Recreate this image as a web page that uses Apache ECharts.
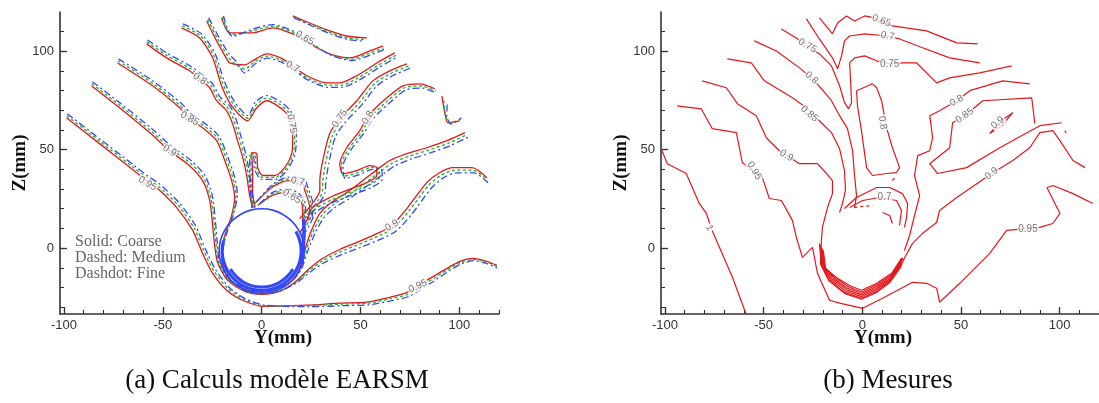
<!DOCTYPE html>
<html><head><meta charset="utf-8">
<script src="https://cdn.jsdelivr.net/npm/echarts/dist/echarts.min.js"></script>
<style>html,body{margin:0;padding:0;background:#fff}#c{width:1099px;height:403px}</style>
</head><body><div id="c"></div>
<script>
// ---------- tick labels ----------
const xMajorTicks = [-100, -50, 0, 50, 100];
const xMinorTicks = [-100, -90, -80, -70, -60, -50, -40, -30, -20, -10, 0, 10, 20, 30, 40, 50, 60, 70, 80, 90, 100, 110, 120];
const yMajorTicks = [0, 50, 100];
const yMinorTicks = [-30, -20, -10, 0, 10, 20, 30, 40, 50, 60, 70, 80, 90, 100, 110];

// ---------- (a) computations: coarse (red), medium (green), fine (blue) ----------
const red095 = [[-98.7,66.3],[-82,53.1],[-65.3,40],[-58.2,34.3],[-53.2,30.8],[-43,20.6],[-34.9,9],[-29.9,-2.7],[-24.8,-12.8],[-17.7,-21.4],[-9.6,-26.5],[0.5,-29.6],[22.8,-29],[39.5,-28],[53.2,-27.5],[64.8,-25],[73.4,-22.5],[83.5,-16.4],[93.7,-10.3],[100.2,-6.7],[106.8,-5.2],[113.9,-6.7],[119,-8.8]];
const green095 = [[-98.5,67.3],[-81.8,54.2],[-65,41.1],[-57.8,35.4],[-52.7,31.9],[-42.3,21.8],[-34.2,10.2],[-29.2,-1.6],[-24,-11.9],[-17,-20.7],[-9,-26],[1,-29.3],[23,-29.2],[40,-28.5],[53.5,-28],[65,-25.8],[74,-23.4],[84,-17.3],[94,-11],[100.5,-7.3],[107,-5.7],[114,-7.2],[119,-9.4]];
const blue095 = [[-98.3,68.3],[-81.5,55.2],[-64.6,42.1],[-57.3,36.4],[-52.2,33],[-41.7,23],[-33.5,11.5],[-28.5,-0.5],[-23.3,-11],[-16.4,-20],[-8.5,-25.6],[1.5,-29],[23.5,-29.8],[40.5,-29.3],[54,-28.8],[65.5,-26.8],[74.5,-24.5],[84.5,-18.4],[94.5,-11.8],[101,-8],[107.3,-6.4],[114.2,-8],[119,-10.2]];

const red090 = [[-86.1,82.5],[-71.9,71.3],[-56.7,58.7],[-46.6,49.5],[-36.5,41.9],[-29.9,34.3],[-26.3,24.2],[-24.8,11.5],[-23.8,1.4],[-22.3,-7.3],[-17.2,-16.4],[-8.6,-22],[0,-23.5],[9.1,-22],[16.7,-17.4],[24.3,-10.3],[30.9,-5.2],[39.5,-0.7],[48.1,2.9],[59.7,8],[65.8,11.5],[73.4,20.1],[83.5,33.3],[90.1,38.4],[96.7,40.9],[106.3,40.9],[113.9,35.8]];
const green090 = [[-85.9,83.6],[-71.6,72.4],[-56.3,59.8],[-46.1,50.6],[-35.9,43],[-29.2,35.4],[-25.6,25.3],[-24.1,12.5],[-23.1,2.2],[-21.8,-6.8],[-16.9,-16],[-8.4,-21.8],[0,-23.3],[9.3,-21.8],[17.1,-17.5],[24.8,-10.8],[31.5,-6],[40.2,-1.7],[49,1.8],[60.5,6.8],[66.8,10.2],[74.4,18.8],[84.5,32],[91,37.2],[97.5,39.6],[106.8,39.6],[114.2,34.5]];
const blue090 = [[-85.6,84.6],[-71.2,73.4],[-55.8,60.9],[-45.5,51.7],[-35.2,44.1],[-28.5,36.5],[-24.9,26.3],[-23.4,13.5],[-22.5,3],[-21.4,-6.3],[-16.6,-15.6],[-8.2,-21.6],[0,-23.1],[9.5,-21.6],[17.5,-17.7],[25.4,-11.5],[32.3,-7],[41.2,-3],[50.1,0.4],[61.6,5.2],[68,8.7],[75.8,17.1],[85.7,30.4],[92,35.8],[98.4,38.2],[107.3,38.2],[114.5,33.2]];

const red085 = [[-72.9,94.1],[-55.2,82.5],[-41.5,71.3],[-36.5,65.8],[-29.9,61.2],[-22.8,54.6],[-18.7,44.5],[-15.2,34.3],[-13.7,25.7],[-15.2,16.6],[-18.2,8],[-20.3,-1.2],[-19.7,-8.8],[-16.2,-16.4],[-8.6,-20.9],[0,-22.5],[8.1,-20.9],[15.2,-16.4],[19.2,-10.3],[21.8,-1.2],[23.3,3.9],[25.8,10.5],[29.4,17.6],[34.4,22.7],[43,28.2],[51.1,34.3],[59.7,40.9],[64.8,44.5],[73.4,48],[83.5,51],[93.7,54.6],[102.8,58.7]];
const green085 = [[-72.7,95.2],[-54.9,83.6],[-41.1,72.4],[-36,66.9],[-29.4,62.3],[-22.2,55.7],[-18,45.6],[-14.5,35.4],[-13,26.6],[-14.6,17.3],[-17.7,8.5],[-19.9,-0.9],[-19.4,-8.6],[-16,-16.2],[-8.5,-20.7],[0,-22.3],[8.2,-20.7],[15.4,-16.4],[19.6,-10.6],[22.4,-1.7],[24,3.2],[26.6,9.6],[30.4,16.6],[35.5,21.6],[44.1,27],[52.3,33.1],[60.9,39.6],[66,43.2],[74.5,46.7],[84.5,49.8],[94.6,53.4],[103.5,57.5]];
const blue085 = [[-72.4,96.2],[-54.5,84.6],[-40.6,73.5],[-35.5,68],[-28.8,63.4],[-21.6,56.8],[-17.3,46.7],[-13.8,36.5],[-12.3,27.5],[-14,18],[-17.2,9],[-19.5,-0.6],[-19.1,-8.4],[-15.8,-16],[-8.4,-20.5],[0,-22.1],[8.3,-20.5],[15.6,-16.4],[20,-10.9],[23,-2.2],[24.8,2.4],[27.5,8.6],[31.4,15.5],[36.7,20.4],[45.3,25.8],[53.5,31.8],[62.2,38.2],[67.3,41.8],[75.7,45.3],[85.6,48.5],[95.6,52.2],[104.2,56.3]];

const redHook = [[91.1,77.4],[92.7,68.3],[94.2,63.7],[100.2,64.7]];
const greenHook = [[92,75],[93,67.5],[95,63.5],[100.5,65.5]];
const blueHook = [[93.8,73],[93.6,67],[96,63],[101,66.2]];

const red080L = [[-58.2,103.8],[-48.1,96.7],[-36.5,90.1],[-31.4,86],[-26.3,81.5],[-22.8,74.9],[-17.7,69.8],[-14.7,63.2],[-12.2,54.6],[-9.6,46],[-7.6,36.9],[-6.1,26.7],[-4.6,20.6]];
const green080L = [[-58,104.8],[-47.8,97.8],[-36,91.2],[-30.8,87.1],[-25.6,82.6],[-22,76],[-16.8,70.9],[-13.8,64.2],[-11.3,55.5],[-8.8,46.8],[-6.9,37.5],[-5.5,27.2],[-4,20.7]];
const blue080L = [[-57.7,105.8],[-47.4,98.8],[-35.5,92.2],[-30.2,88.1],[-24.9,83.6],[-21.2,77],[-15.9,71.9],[-12.9,65.2],[-10.4,56.4],[-8,47.6],[-6.2,38.1],[-4.9,27.7],[-3.4,20.8]];

const red080R = [[19.2,7.5],[22.8,14.1],[25.8,20.6],[34.4,25.7],[43,29.3],[53.2,33.3],[58.2,36.9],[58.2,40.9],[54.7,41.9],[48.1,39.4],[41,37.9],[39.5,42.9],[43,51],[49.6,59.7],[53.2,66.3],[56.2,69.8],[63.3,76.4],[71.4,82.5],[80,83.5],[87.6,81]];
const green080R = [[20,6.8],[23.6,13.2],[26.8,19.6],[35.5,24.6],[44.2,28.1],[54.4,32.1],[59.6,36],[59.3,40.5],[55.5,41],[48.8,38.4],[41.6,36.6],[40.3,42.3],[44,50.4],[50.6,59],[54.3,65.5],[57.3,68.9],[64.3,75.4],[72.2,81.5],[80.6,82.4],[88,79.9]];
const blue080R = [[20.8,6.1],[24.5,12.3],[27.8,18.6],[36.6,23.5],[45.4,26.9],[55.6,30.9],[61,35.1],[60.4,40.1],[56.3,40.1],[49.5,37.4],[42.2,35.4],[41.1,41.7],[45,49.8],[51.6,58.3],[55.4,64.7],[58.4,68],[65.3,74.4],[73,80.5],[81.2,81.3],[88.4,78.8]];

const red075L = [[-40.5,111.9],[-31.4,106.8],[-24.8,96.7],[-20.3,82.5],[-15.2,72.3],[-7.1,64.7],[-2.5,71.3],[2.5,74.9],[8.1,72.3],[12.7,68.3],[15.2,63.2],[15.7,56.1],[15.2,48],[11.6,40.9],[6.6,36.9],[0.5,36.9],[-2,40.9],[-2.5,48],[-5.1,48.5],[-4.6,37.9],[-4.6,29.3],[-3.5,20.6]];
const green075L = [[-40.2,113],[-31,107.9],[-24.2,97.8],[-19.6,83.6],[-14.5,73.4],[-7,66],[-2.8,72.8],[2.5,76.2],[8.5,73.5],[13.4,69.3],[16,64],[16.6,56.4],[16,47.8],[12.2,40.2],[6.8,35.9],[0.2,35.9],[-2.8,40.5],[-3.3,47.4],[-5.6,47.8],[-5.3,37.6],[-5.2,29],[-4.2,20.5]];
const blue075L = [[-39.8,114],[-30.5,108.9],[-23.6,98.9],[-18.9,84.7],[-13.8,74.5],[-6.9,67.3],[-3.2,74.3],[2.5,77.5],[9,74.7],[14.1,70.3],[16.8,64.8],[17.5,56.7],[16.8,47.6],[12.8,39.5],[7,34.9],[-0.1,34.9],[-3.6,40.1],[-4.1,46.8],[-6.1,47.1],[-6,37.3],[-5.8,28.7],[-4.9,20.4]];

const red075R = [[73.4,93.6],[64.8,90.1],[56.2,85],[48.1,74.9],[39.5,65.8],[34.4,58.2],[30.9,44.5],[29.4,34.3],[29.4,29.3],[26.8,24.2],[22.8,19.1],[19.2,15]];
const green075R = [[74.2,92.5],[65.6,88.9],[57.2,83.7],[49.3,73.8],[40.8,64.8],[35.8,57.3],[32.4,43.8],[30.9,33.7],[30.7,28.7],[28,23.5],[23.9,18.3],[20.1,14]];
const blue075R = [[75,91.4],[66.4,87.7],[58.2,82.4],[50.5,72.7],[42.1,63.8],[37.2,56.4],[33.9,43.1],[32.4,33.1],[32,28.1],[29.2,22.8],[25,17.5],[21,13]];

const red070 = [[-27.8,115.4],[-22.8,105.3],[-17.7,96.2],[-16.2,94.1],[-8.6,93.1],[-4.6,95.2],[2.5,98.7],[10.6,96.2],[15.7,92.6],[22.8,87.6],[32.9,84],[39.5,84],[48.1,87.6],[58.2,94.1],[67.3,99.2]];
const green070 = [[-27.3,116.2],[-22.2,106.2],[-17,97.3],[-14.5,94.5],[-8.6,91],[-4,94.4],[2.7,97.6],[10.8,95],[16,91.4],[23.2,86.4],[33.3,82.8],[40,82.8],[48.6,86.4],[58.8,92.9],[67.8,98]];
const blue070 = [[-26.8,117],[-21.6,107.1],[-16.3,98.4],[-13,95],[-8.6,89],[-3.4,93.6],[2.9,96.6],[11,94],[16.3,90.3],[23.6,85.3],[33.7,81.7],[40.5,81.7],[49.1,85.3],[59.4,91.8],[68.3,97]];

const red065 = [[-20.3,117],[-16.2,109.4],[-4.6,109.4],[5.6,111.9],[15.7,108.9],[20.3,106.3],[24.3,103.8],[34.4,98.7],[44.6,96.7],[54.7,100.2],[61.3,102.8]];
const green065 = [[-19.8,117.5],[-15.5,108.5],[-4.6,110.4],[5.6,112.8],[16,109.6],[20.6,106.8],[24.7,104],[34.8,98.4],[45,96],[55,99.2],[61.6,101.8]];
const blue065 = [[-19.3,118],[-14.8,107.6],[-4.6,111.3],[5.6,113.6],[16.3,110.2],[21,107.2],[25.1,104.1],[35.2,98],[45.4,95.3],[55.4,98.3],[62,100.9]];

const red060 = [[15.7,118],[24.3,114.4],[34.4,110.4],[43,107.8],[53.2,106.8]];
const green060 = [[16,117.5],[24.7,113.7],[34.8,109.5],[43.5,106.8],[52,106]];
const blue060 = [[16.3,117],[25.1,113],[35.2,108.7],[44,105.9],[51,105.3]];

const redArc070 = [[-3.5,22.7],[5.1,30.8],[13.2,34.3],[20.3,33.3],[21.8,29.3],[24.3,20.6],[23.3,14.1]];
const greenArc070 = [[-3,23.2],[5.3,31.6],[13.4,35.2],[20.8,34.3],[22.6,30],[25.2,21],[24.3,14.2]];
const blueArc070 = [[-2.5,23.7],[5.5,32.4],[13.6,36.1],[21.3,35.3],[23.4,30.7],[26.1,21.4],[25.3,14.3]];
const redArc065 = [[-2,21.6],[5.1,26.7],[11.6,28.2],[16.7,26.7],[20.3,22.7],[20.8,14.1]];
const greenArc065 = [[-1.6,22],[5.3,27.5],[11.9,29.1],[17.2,27.6],[21,23.3],[21.6,14.2]];
const blueArc065 = [[-1.2,22.4],[5.5,28.3],[12.2,30],[17.7,28.5],[21.7,23.9],[22.4,14.3]];

// rod outline and the packed wall contours
const rodOutline = [[21.5,-1.5],[20.8,4.1],[18.6,9.25],[15.2,13.7],[10.75,17.1],[5.6,19.3],[0,20],[-5.6,19.3],[-10.75,17.1],[-15.2,13.7],[-18.6,9.25],[-20.8,4.1],[-21.5,-1.5],[-20.8,-7.1],[-18.6,-12.25],[-15.2,-16.7],[-10.75,-20.1],[-5.6,-22.3],[0,-23],[5.6,-22.3],[10.75,-20.1],[15.2,-16.7],[18.6,-12.25],[20.8,-7.1],[21.5,-1.5]];
const wallBandOuter = [[-19.3,3.7],[-20,-1.5],[-19.3,-6.7],[-17.3,-11.5],[-14.1,-15.6],[-10,-18.8],[-5.2,-20.8],[0,-21.5],[5.2,-20.8],[10,-18.8],[14.1,-15.6],[17.3,-11.5],[19.3,-6.7],[20,-1.5],[19.3,3.7],[17.3,8.5]];
const wallBandInner = [[-15.85,-10.65],[-12.9,-14.4],[-9.15,-17.35],[-4.7,-19.2],[0,-19.8],[4.7,-19.2],[9.15,-17.35],[12.9,-14.4],[15.85,-10.65]];
const wallBundleRight = [[20.3,-8],[21,0],[21.4,8],[21.2,15]];

const leftLabelText = ['0.65','0.7','0.8','0.85','0.9','0.95','0.75','0.75','0.8','0.7','0.65','0.9','0.95'];
const leftLabelPos = [[21.8,106.8],[15.7,92.1],[-31.4,86],[-36.5,65.8],[-46.6,49.5],[-57.7,32.8],[15.2,63.2],[39.5,65.8],[53.7,66.3],[18.2,33.8],[15.2,26.2],[65.8,11.5],[79,-19.4]];
const leftLabelRot = [-30,-30,-35,-30,-30,-30,-80,55,60,-15,-30,30,25];

// ---------- (b) measurements ----------
const meas100 = [[-101.9,50.5],[-98.8,42.9],[-89.2,37.9],[-82.6,22.7],[-79,17.6],[-76.5,10],[-72.4,0.4],[-65.8,-14.8],[-58.7,-34]];
const meas095 = [[-93.8,72.3],[-81.6,70.8],[-76,60.7],[-63.8,58.7],[-60.8,43.5],[-50.6,35.8],[-47.1,25.2],[-41,24.2],[-35.4,14.1],[-33.4,5.4],[-30.3,-4.7],[-25.2,0.4],[-22.7,-12.8],[-16.6,-26.5],[-11.5,-28],[0.2,-30.6],[10.3,-25.5],[25.5,-17.4],[32.6,-17.9],[37.7,-20.4],[39.2,-27.5],[49.4,-17.9],[56,-11.3],[64.6,-2.7],[73.2,9],[90,10.5],[96.6,12.5],[100.2,17.6],[93.6,30.8],[96.6,31.8],[106.8,27.7],[116.9,22.7]];
const meas090 = [[-81.1,85],[-68.9,81.5],[-63.3,73.4],[-53.7,67.3],[-48.6,56.1],[-42,49.5],[-31.8,42.9],[-22.7,42.9],[-18.1,37.9],[-15.1,34.3],[-15.1,27.7],[-17.6,20.6],[-20.2,10.5],[-20.7,3.9],[-21.2,-8],[-17,-16.5],[-9,-23],[-0.4,-26],[7.3,-22.5],[14,-17.5],[19,-10.5],[21.4,-5],[25.5,2.4],[30.6,7.5],[37.7,13],[39.2,19.1],[47.9,25.7],[65.6,37.9],[76.3,44.5],[84.9,51],[90,58.7],[96.6,59.7],[100.2,54.6],[106.8,44.5],[112.9,40.9]];
const meas090Lens = [[64.6,58.2],[69.7,64.2],[76.3,68.8],[71.2,62.7],[64.6,58.2]];
const meas085L = [[-68.4,96.2],[-56.2,94.1],[-49.6,85],[-35.4,76.4],[-28.3,71.3],[-20.7,63.7],[-15.6,58.7],[-11.5,50.5],[-9,39.4],[-8.5,29.3],[-10,22.7],[-11.5,18.1]];
const meas085R = [[101.2,63.7],[90,62.2],[69.7,51],[52.9,40.9],[38.2,37.9],[34.2,42.9],[44.3,51],[45.8,63.7],[51.9,67.3],[61.1,74.9],[85.9,76.4],[87.5,63.2]];
const meas085Bit = [[102.7,59.7],[103.4,58.5]];
const meas080L = [[-54.7,105.3],[-43.5,100.2],[-31.8,91.6],[-25.7,86.5],[-20.7,81],[-15.6,74.9],[-11.5,67.3],[-7.5,60.7],[-4.9,49.5],[-3.9,36.9],[-2.9,26.7],[-3.9,20.6]];
const meas080Island = [[-2.9,80],[5.2,83.5],[7.3,81.5],[9.8,74.9],[12.3,61.2],[15.3,51],[18.9,40.9],[17.4,38.4],[12.3,37.9],[5.2,36.9],[2.2,40.9],[-0.4,59.7],[-2.4,72.3],[-2.9,80]];
const meas080R = [[84.9,83.5],[71.2,85],[54.5,80],[47.9,74.9],[39.2,69.8],[34.2,67.3],[35.7,56.1],[34.2,49.5],[28.1,47],[26.5,36.9],[29.1,26.7],[26.5,16.6],[24,6.4],[21.4,-1.2]];
const meas075 = [[-41,111.4],[-33.4,106.8],[-27.8,102.8],[-21.7,98.7],[-15.6,92.6],[-11.5,82.5],[-9,73.9],[-6.9,70.8],[-5.4,73.9],[-5.9,85],[-6.4,94.1],[-3.9,96.7],[1.2,97.7],[7.3,95.2],[13.9,93.6],[20.4,94.1],[27.6,94.1],[37.7,84],[44.3,86.5],[59.5,89.1],[75.8,92.6]];
const meas070 = [[-28.3,116.5],[-21.7,106.3],[-15.1,96.7],[-12.5,91.1],[-10.5,97.7],[-9,105.3],[-6.4,107.8],[1.2,108.9],[12.8,107.8],[18.9,106.3],[30.6,101.8],[44.3,96.7],[59.5,94.1]];
const meas065 = [[-21.7,117],[-15.1,108.9],[-12.5,114.4],[-8,118],[-3.9,115.4],[1.2,118],[6.2,117],[15.3,112.9],[32.6,110.4],[47.9,104.3],[58.5,103.8]];
const measArc1 = [[-9,20.1],[-2.9,25.7],[7.3,30.8],[13.9,30.8],[20.4,27.7],[23,22.7],[22.5,15.6],[21.4,10.5]];
const measArc2 = [[-6.4,20.6],[0.2,24.2],[8.8,25.7],[17.4,24.2],[19.9,19.1],[18.9,11.5]];
const measArc3 = [[-4,20.6],[0,21.2],[5.2,21.6]];
const measArc4 = [[10.3,18.1],[13.9,16.6],[15.3,12.5]];
const measBit = [[15.3,34.3],[16.3,35.6]];
const measWallA = [[-21.7,2.4],[-20.7,-8.8],[-16.6,-16.4],[-9,-22.5],[-0.4,-25.5],[7.3,-21.9],[13.9,-16.9],[18.9,-9.8],[20.4,-5.2]];
const measWallB = [[-21.3,1.6],[-20.3,-9.1],[-15.8,-16.2],[-8.5,-21.8],[-0.4,-24.7],[7.3,-21.1],[14.1,-16.1],[18.7,-9.5],[20.3,-5.2]];
const measWallC = [[-20.9,0.8],[-19.9,-9.4],[-15,-16],[-7.9,-21.1],[-0.4,-23.9],[7.3,-20.3],[14.3,-15.3],[18.5,-9.2],[20.2,-5.2]];
const measWallD = [[-20.5,0],[-19.4,-9.7],[-14.1,-15.8],[-7.4,-20.4],[-0.4,-23.1],[7.3,-19.5],[14.5,-14.5],[18.3,-8.9],[20.1,-5.2]];
const measWallE = [[-20.1,-0.6],[-19,-10],[-13.3,-15.6],[-6.9,-19.7],[-0.4,-22.3],[7.3,-18.7],[14.7,-13.7],[18.1,-8.5],[20,-5.2]];
const measWallF = [[-19.7,-1.2],[-18.6,-10.3],[-12.5,-15.4],[-6.4,-19],[-0.4,-21.4],[7.3,-17.9],[14.9,-12.8],[17.9,-8.2],[19.9,-5.2]];

const rightLabelText = ['1','0.95','0.95','0.9','0.85','0.8','0.75','0.65','0.7','0.75','0.8','0.8','0.85','0.9','0.9','0.7'];
const rightLabelPos = [[-77.5,10.3],[-54.7,39.3],[84,9.5],[-38.4,47],[-26.8,68.3],[-25.7,86.5],[-27.8,102.8],[9.8,115.5],[12.8,107.8],[13.9,93.6],[10.3,63.7],[47.9,74.9],[51.9,67.3],[68.7,63.7],[65.6,37.9],[11.3,25.7]];
const rightLabelRot = [-65,-60,0,-30,-40,-40,-30,-20,-10,0,-80,30,35,40,40,0];

// ---------- build ----------
const RED = '#e3161b', GREEN = '#1db51d', BLUE = '#3347ff';
const chart = echarts.init(document.getElementById('c'), null, {renderer: 'canvas'});

function xAxes(g) {
  return [
    {type: 'value', gridIndex: g, min: -102, max: 120, position: 'bottom',
     axisLine: {show: true, onZero: false, lineStyle: {color: '#333', width: 1.6}},
     axisTick: {show: true, inside: true, length: 7, customValues: xMajorTicks, lineStyle: {color: '#333', width: 1.3}},
     axisLabel: {show: true, customValues: xMajorTicks, margin: 5, color: '#333', fontSize: 13, fontFamily: 'Liberation Sans'},
     splitLine: {show: false}},
    {type: 'value', gridIndex: g, min: -102, max: 120, position: 'bottom',
     axisLine: {show: false, onZero: false},
     axisTick: {show: true, inside: true, length: 4, customValues: xMinorTicks, lineStyle: {color: '#333', width: 1.1}},
     axisLabel: {show: false}, splitLine: {show: false}}
  ];
}
function yAxes(g) {
  return [
    {type: 'value', gridIndex: g, min: -33.5, max: 120, position: 'left',
     axisLine: {show: true, onZero: false, lineStyle: {color: '#333', width: 1.6}},
     axisTick: {show: true, inside: true, length: 7, customValues: yMajorTicks, lineStyle: {color: '#333', width: 1.3}},
     axisLabel: {show: true, customValues: yMajorTicks, margin: 6, color: '#333', fontSize: 13, fontFamily: 'Liberation Sans'},
     splitLine: {show: false}},
    {type: 'value', gridIndex: g, min: -33.5, max: 120, position: 'left',
     axisLine: {show: false, onZero: false},
     axisTick: {show: true, inside: true, length: 4, customValues: yMinorTicks, lineStyle: {color: '#333', width: 1.1}},
     axisLabel: {show: false}, splitLine: {show: false}}
  ];
}

function line(data, color, dash, width, xi, smooth, z) {
  return {type: 'line', data: data, xAxisIndex: xi, yAxisIndex: xi, showSymbol: false, symbol: 'none',
          smooth: smooth, silent: true, animation: false, z: z || 2,
          lineStyle: {color: color, width: width, type: dash}};
}

const series = [];
const leftGroups = [
  [red095, green095, blue095], [red090, green090, blue090], [red085, green085, blue085],
  [redHook, greenHook, blueHook], [red080L, green080L, blue080L], [red080R, green080R, blue080R],
  [red075L, green075L, blue075L], [red075R, green075R, blue075R], [red070, green070, blue070],
  [red065, green065, blue065], [red060, green060, blue060],
  [redArc070, greenArc070, blueArc070], [redArc065, greenArc065, blueArc065]
];
leftGroups.forEach(g => series.push(line(g[0], RED, 'solid', 1.3, 0, 0.25, 2)));
leftGroups.forEach(g => series.push(line(g[1], GREEN, [3, 2.5], 1.3, 0, 0.25, 3)));
leftGroups.forEach(g => series.push(line(g[2], BLUE, [7, 3, 2, 3], 1.3, 0, 0.25, 4)));
series.push(line(rodOutline, BLUE, 'solid', 1.6, 0, 0.4, 4));
series.push(line(wallBandOuter, BLUE, 'solid', 3.2, 0, 0.4, 4));
series.push(line(wallBandInner, BLUE, 'solid', 3, 0, 0.4, 4));
series.push(line(wallBundleRight, BLUE, 'solid', 3.5, 0, 0.3, 4));

[meas100, meas095, meas090, meas090Lens, meas085L, meas085R, meas085Bit, meas080L, meas080Island, meas080R,
 meas075, meas070, meas065, measArc1, measArc2, measArc4, measBit,
 measWallA, measWallB, measWallC, measWallD, measWallE, measWallF]
  .forEach(d => series.push(line(d, RED, 'solid', 1.2, 2, false, 2)));
series.push(line(measArc3, RED, [3, 3], 1.2, 2, false, 2));

function labelSeries(texts, pos, rot, xi) {
  return {type: 'scatter', xAxisIndex: xi, yAxisIndex: xi, symbolSize: 1, silent: true, animation: false, z: 10,
          itemStyle: {color: 'rgba(0,0,0,0)'},
          label: {show: true, position: 'inside', formatter: '{b}', color: '#555', fontSize: 10,
                  fontFamily: 'Liberation Sans', backgroundColor: '#fff', padding: [0, 1]},
          data: texts.map((t, i) => ({name: t, value: pos[i], label: {rotate: rot[i]}}))};
}
series.push(labelSeries(leftLabelText, leftLabelPos, leftLabelRot, 0));
series.push(labelSeries(rightLabelText, rightLabelPos, rightLabelRot, 2));

const titleFont = 'bold 19px "Liberation Serif"';
chart.setOption({
  animation: false,
  grid: [
    {left: 60, top: 12, width: 439, height: 302},
    {left: 661, top: 12, width: 438, height: 302}
  ],
  xAxis: xAxes(0).concat(xAxes(1)),
  yAxis: yAxes(0).concat(yAxes(1)),
  series: series,
  graphic: [
    {type: 'text', x: 20, y: 163, rotation: Math.PI / 2, style: {text: 'Z(mm)', font: titleFont, fill: '#111', align: 'center', verticalAlign: 'middle'}},
    {type: 'text', x: 621, y: 163, rotation: Math.PI / 2, style: {text: 'Z(mm)', font: titleFont, fill: '#111', align: 'center', verticalAlign: 'middle'}},
    {type: 'text', x: 283, y: 338, style: {text: 'Y(mm)', font: titleFont, fill: '#111', align: 'center', verticalAlign: 'middle'}},
    {type: 'text', x: 883, y: 338, style: {text: 'Y(mm)', font: titleFont, fill: '#111', align: 'center', verticalAlign: 'middle'}},
    {type: 'text', x: 75, y: 242, style: {text: 'Solid: Coarse', font: '16px "Liberation Serif"', fill: '#666', align: 'left', verticalAlign: 'middle'}},
    {type: 'text', x: 75, y: 258, style: {text: 'Dashed: Medium', font: '16px "Liberation Serif"', fill: '#666', align: 'left', verticalAlign: 'middle'}},
    {type: 'text', x: 75, y: 274, style: {text: 'Dashdot: Fine', font: '16px "Liberation Serif"', fill: '#666', align: 'left', verticalAlign: 'middle'}},
    {type: 'text', x: 277, y: 381, style: {text: '(a) Calculs modèle EARSM', font: '27px "Liberation Serif"', fill: '#111', align: 'center', verticalAlign: 'middle'}},
    {type: 'text', x: 888, y: 381, style: {text: '(b) Mesures', font: '27px "Liberation Serif"', fill: '#111', align: 'center', verticalAlign: 'middle'}}
  ]
});
</script></body></html>
